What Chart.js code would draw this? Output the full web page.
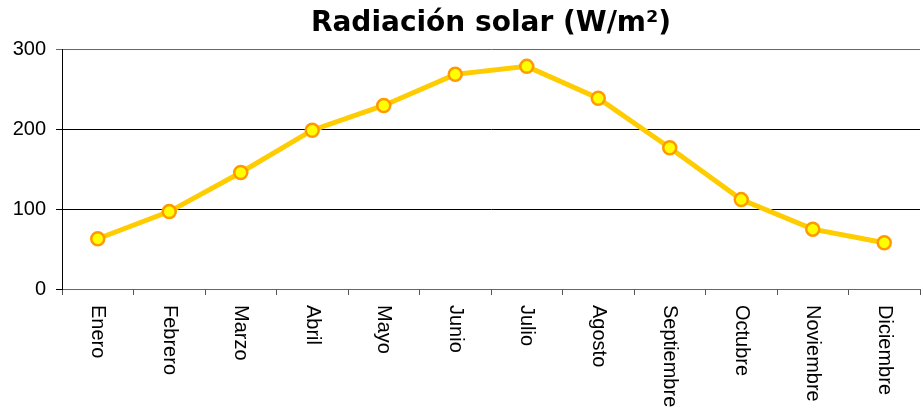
<!DOCTYPE html>
<html>
<head>
<meta charset="utf-8">
<script src="https://cdn.jsdelivr.net/npm/chart.js@4"></script>
<style>
  html, body { margin: 0; padding: 0; background: #fff; }
  #wrap { width: 921px; height: 414px; }
</style>
</head>
<body>
<div id="wrap"><canvas id="solarChart" width="921" height="414"></canvas></div>
<script>
const months = ["Enero", "Febrero", "Marzo", "Abril", "Mayo", "Junio", "Julio",
  "Agosto", "Septiembre", "Octubre", "Noviembre", "Diciembre"];
const radiation = [63, 97, 146, 199, 230, 269, 279, 239, 177, 112, 75, 58];
const yTicks = [0, 100, 200, 300];

// month labels read top to bottom, so they are drawn here instead of by the axis
const verticalLabels = {
  id: "verticalLabels",
  afterDraw(chart) {
    const ctx = chart.ctx;
    const xScale = chart.scales.x;
    ctx.save();
    ctx.font = "20px 'Liberation Sans', Arial, sans-serif";
    ctx.fillStyle = "#000";
    ctx.textAlign = "left";
    ctx.textBaseline = "middle";
    months.forEach((m, i) => {
      const x = xScale.getPixelForValue(i);
      ctx.save();
      ctx.translate(x, xScale.top + 16);
      ctx.rotate(Math.PI / 2);
      ctx.fillText(m, 0, 0);
      ctx.restore();
    });
    ctx.restore();
  }
};

const ctx = document.getElementById("solarChart").getContext("2d");
new Chart(ctx, {
  type: "line",
  data: {
    labels: months,
    datasets: [{
      data: radiation,
      borderColor: "#FFCC00",
      borderWidth: 5,
      backgroundColor: "#FFFF00",
      pointBackgroundColor: "#FFFF00",
      pointBorderColor: "#FF9900",
      pointBorderWidth: 2.5,
      pointRadius: 6.5,
      tension: 0,
      fill: false
    }]
  },
  options: {
    responsive: false,
    animation: false,
    layout: { autoPadding: false, padding: { left: 0, right: 1, top: 0, bottom: 0 } },
    plugins: {
      legend: { display: false },
      tooltip: { enabled: false },
      title: {
        display: true,
        text: "Radiación solar (W/m²)",
        fullSize: false,
        color: "#000",
        font: { family: "'DejaVu Sans', Verdana, sans-serif", size: 28, weight: "bold" },
        padding: { top: 7, bottom: 9 }
      }
    },
    scales: {
      x: {
        offset: true,
        grid: {
          offset: true,
          drawOnChartArea: false,
          drawTicks: true,
          tickLength: 6,
          color: "#555"
        },
        border: { color: "#666", width: 1 },
        ticks: { display: false },
        afterFit(scale) { scale.height = 125; }
      },
      y: {
        min: 0,
        max: 300,
        afterBuildTicks(scale) { scale.ticks = yTicks.map(v => ({ value: v })); },
        grid: {
          color: ctx => ctx.tick && ctx.tick.value === 300 ? "#666" : "#000",
          lineWidth: 1,
          tickLength: 6
        },
        border: { color: "#000", width: 1 },
        ticks: {
          color: "#000",
          padding: 10,
          font: { family: "'Liberation Sans', Arial, sans-serif", size: 20 }
        },
        afterFit(scale) { scale.width = 62; }
      }
    }
  },
  plugins: [verticalLabels]
});
</script>
</body>
</html>
